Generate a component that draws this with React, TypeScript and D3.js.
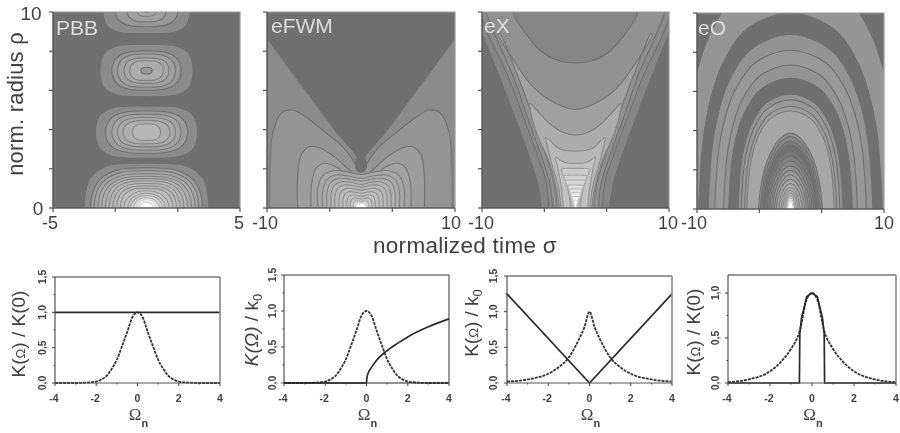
import * as d3 from "d3";

type Pt = [number, number];
type Ring = [number, number, number]; // half width, half height, level

const FONT = "'Liberation Sans', Arial, sans-serif";
const INK = "#3f3f3f";

// contour level -> grey
const gray = d3.scaleLinear<string>()
  .domain([0, 0.3, 0.6, 1])
  .range(["#707070", "#989898", "#c2c2c2", "#ffffff"])
  .clamp(true);

// quarter outlines of a closed contour, unit size
const boxy: Pt[] = [[1, 0], [0.98, 0.35], [0.9, 0.68], [0.66, 0.93], [0.32, 1], [0, 1]];
const soft: Pt[] = [[1, 0], [0.96, 0.38], [0.82, 0.72], [0.5, 0.95], [0, 1]];
const round: Pt[] = [[1, 0], [0.93, 0.4], [0.72, 0.72], [0.38, 0.94], [0, 1]];
const arch: Pt[] = [[1, 0], [0.98, 0.2], [0.94, 0.4], [0.85, 0.6], [0.72, 0.76], [0.47, 0.92], [0, 1]];
const core: Pt[] = [[1, 0], [0.93, 0.3], [0.8, 0.55], [0.6, 0.76], [0.32, 0.93], [0, 1]];
const butterfly: Pt[] = [[1, 0], [1, 0.5], [0.9, 0.85], [0.65, 1], [0.3, 0.97], [0, 0.9]];
const funnel: Pt[] = [[0.35, 0], [0.45, 0.3], [0.7, 0.7], [0.95, 0.9], [1, 0.98], [0.5, 1], [0, 1]];

// PBB lobes, sigma half width / rho half height
const pbbLobe0Outer: Ring[] = [[3.33, 2.28, 0.2]];
const pbbLobe0Soft: Ring[] = [[3.0, 2.05, 0.32], [2.8, 1.9, 0.38], [2.6, 1.75, 0.42], [2.4, 1.62, 0.45], [2.2, 1.5, 0.48], [2.0, 1.38, 0.5], [1.8, 1.25, 0.52], [1.6, 1.12, 0.54], [1.4, 1.0, 0.56]];
const pbbLobe0Round: Ring[] = [[1.2, 0.88, 0.6], [1.0, 0.75, 0.64], [0.85, 0.64, 0.7], [0.68, 0.52, 0.8], [0.52, 0.42, 1], [0.4, 0.3, 1]];
const pbbLobe1Outer: Ring[] = [[2.73, 1.33, 0.2]];
const pbbLobe1: Ring[] = [[2.2, 1.08, 0.32], [1.85, 0.92, 0.38], [1.55, 0.75, 0.42], [1.25, 0.6, 0.46], [0.75, 0.42, 0.52]];
const pbbLobe2Outer: Ring[] = [[2.49, 1.33, 0.2]];
const pbbLobe2: Ring[] = [[1.85, 1.0, 0.3], [1.55, 0.85, 0.36], [1.2, 0.65, 0.4], [0.9, 0.5, 0.44], [0.3, 0.17, 0.3]];
const pbbLobe3Outer: Ring[] = [[2.33, 1.2, 0.2]];
const pbbLobe3: Ring[] = [[1.68, 0.85, 0.3], [1.05, 0.6, 0.36], [0.52, 0.32, 0.4], [0.15, 0.12, 0.3]];
const pbbCenters = [0, 3.87, 7.01, 10.1];

// eFWM
const fwmDark: Pt[] = [[-10.6, 11], [-10.6, 9.05], [-10, 8.66], [-7, 6.7], [-5, 5.42], [-2.5, 3.8], [-0.75, 2.85], [-0.42, 2.6], [-0.6, 2.2], [-0.4, 1.92], [0, 1.85]];
const fwmOutline1: Pt[] = [[-9.72, 0], [-9.68, 2.1], [-9.4, 3.8], [-8.5, 4.83], [-7.27, 5], [-5.67, 4.57], [-3.9, 3.9], [-1.95, 3.13], [-0.64, 2.28], [-0.35, 1.9], [0, 1.84]];
const fwmOutline2: Pt[] = [[-6.74, 0], [-6.74, 1.6], [-6.38, 2.7], [-5.5, 3.13], [-4.26, 3.04], [-2.84, 2.62], [-1.42, 2.02], [-0.64, 1.68], [0, 1.63]];
const fwmOutline3: Pt[] = [[-5.32, 0], [-5.25, 1.26], [-4.79, 2.02], [-3.9, 2.28], [-2.66, 2.11], [-1.42, 1.68], [0, 1.43]];
const fwmRings: Ring[] = [[4.6, 1.9, 0.4], [4.08, 1.68, 0.43], [3.62, 1.51, 0.46], [3.19, 1.34, 0.49], [2.77, 1.17, 0.52], [2.34, 1.0, 0.54], [1.91, 0.83, 0.56], [1.49, 0.66, 0.58], [1.13, 0.5, 0.62], [0.8, 0.36, 0.74]];
const fwmCenter: Ring[] = [[0.6, 0.26, 1]];

// eX
const exOutline1: Pt[] = [[-3.62, 0], [-4.15, 1.43], [-5.2, 2.96], [-6.65, 4.83], [-8.43, 7.04], [-9.93, 8.83], [-10.9, 10.1], [-10.9, 11], [0, 11]];
const exOutline2: Pt[] = [[-2.85, 0], [-3.2, 1.43], [-4.15, 2.8], [-5.58, 4.66], [-7.36, 6.87], [-9.32, 8.83], [-10.2, 10.1], [-10.2, 11], [0, 11]];
const exOutline3: Pt[] = [[-2.45, 0], [-2.74, 1.25], [-3.63, 2.62], [-5.05, 4.49], [-6.65, 6.7], [-8.6, 8.83], [-9.6, 10.1], [-9.6, 11], [0, 11]];
const exOutline4: Pt[] = [[-1.95, 0], [-2.3, 1.26], [-3.26, 2.79], [-4.69, 4.83], [-6.65, 7.3], [-8.1, 8.9], [-8.3, 8.9], [-6.65, 7.55], [-4.87, 6.36], [-3.08, 5.6], [0, 5.03]];
const exOutline5: Pt[] = [[-1.75, 0], [-2.08, 1.09], [-2.9, 2.45], [-4.15, 3.81], [-4.87, 5.1], [-4.87, 5.35], [-4.15, 5], [-2.74, 4.3], [-1.3, 3.85], [0, 3.72]];
const exOutline6: Pt[] = [[-1.55, 0], [-1.84, 1.09], [-2.56, 2.28], [-3.08, 3.3], [-3.19, 3.6], [-2.74, 3.45], [-1.84, 3.05], [0, 2.9]];
const exOutline7: Pt[] = [[-1.3, 0], [-1.48, 0.92], [-1.84, 1.94], [-2.1, 2.6], [-1.67, 2.45], [-0.94, 2.3], [0, 2.28]];
const exTopHole: Pt[] = [[-6.65, 11], [-6.65, 9.95], [-5.6, 9.08], [-3.8, 8.05], [-2, 7.55], [0, 7.4]];
const exRings: Ring[] = [[1.53, 2.02, 0.66], [1.25, 1.68, 0.7], [1.07, 1.43, 0.74], [0.86, 1.17, 0.78], [0.71, 0.97, 0.82], [0.57, 0.78, 0.88], [0.43, 0.58, 0.93], [0.25, 0.37, 1]];

// eO arches, half width at the base / top height
const eoArches: Ring[] = [
  [11.6, 12.1, 0.28], [9.8, 10, 0], [8.8, 8.9, 0.26], [8.1, 8.1, 0.3], [7.15, 7.35, 0.26],
  [6.6, 6.67, 0], [5.6, 5.87, 0.26], [5.27, 5.57, 0.3], [4.9, 5.23, 0.34], [4.66, 5.0, 0.4],
];
const eoCore: Ring[] = [
  [3.4, 3.87, 0.24], [3.2, 3.7, 0.16], [3.05, 3.45, 0.08], [2.9, 3.27, 0],
  [2.7, 2.95, 0.06], [2.5, 2.7, 0.12], [2.3, 2.45, 0.18], [2.1, 2.2, 0.24], [1.9, 1.98, 0.3],
  [1.7, 1.75, 0.34], [1.5, 1.52, 0.38], [1.25, 1.3, 0.42], [1.0, 1.1, 0.46], [0.8, 0.95, 0.5],
  [0.62, 0.82, 0.56], [0.48, 0.68, 0.66], [0.37, 0.55, 0.85], [0.29, 0.42, 1],
];

// lower row values
const omega = [-4, -3, -2.5, -2, -1.75, -1.5, -1.25, -1, -0.75, -0.5, -0.25, 0, 0.25, 0.5, 0.75, 1, 1.25, 1.5, 1.75, 2, 2.5, 3, 4];
const gaussK = [0, 0, 0.005, 0.02, 0.05, 0.1, 0.2, 0.33, 0.52, 0.72, 0.93, 1, 0.93, 0.72, 0.52, 0.33, 0.2, 0.1, 0.05, 0.02, 0.005, 0, 0];
const pbbOmega = [-4, 4];
const pbbK = [1, 1];
const fwmOmega = [-4, 0, 0.02, 0.1, 0.25, 0.5, 1, 1.5, 2, 3, 4];
const fwmK = [0, 0, 0.07, 0.15, 0.22, 0.32, 0.45, 0.55, 0.64, 0.78, 0.89];
const exOmega = [-4, 0, 4];
const exK = [1.25, 0, 1.25];
const exDashOmega = [-4, -3, -2, -1.5, -1, -0.5, -0.25, 0, 0.25, 0.5, 1, 1.5, 2, 3, 4];
const exDashK = [0.02, 0.05, 0.13, 0.22, 0.36, 0.62, 0.78, 1, 0.78, 0.62, 0.36, 0.22, 0.13, 0.05, 0.02];
const eoOmega = [-4, -0.6, -0.58, -0.5, -0.25, 0, 0.25, 0.5, 0.58, 0.6, 4];
const eoK = [0, 0, 0.55, 0.72, 0.96, 1, 0.96, 0.72, 0.55, 0, 0];
const eoDashOmega = [-4, -3, -2, -1.5, -1, -0.58, -0.25, 0, 0.25, 0.58, 1, 1.5, 2, 3, 4];
const eoDashK = [0.01, 0.04, 0.13, 0.23, 0.38, 0.58, 0.93, 1, 0.93, 0.58, 0.38, 0.23, 0.13, 0.04, 0.01];

const zip = (a: number[], b: number[]): Pt[] => a.map((v, i) => [v, b[i]]);

const ringPoints = (q: Pt[], w: number, h: number, cy: number): Pt[] => {
  const top = q.map(([x, y]) => [x * w, cy + y * h] as Pt);
  const topLeft = top.slice(1, -1).reverse().map(([x, y]) => [-x, y] as Pt);
  const bottom = [...top, ...topLeft, [-w * q[0][0], cy + q[0][1] * h] as Pt];
  const under = bottom.slice(1, -1).reverse().map(([x, y]) => [x, 2 * cy - y] as Pt);
  return [...bottom, ...under];
};

// mirror a left half outline round sigma = 0
const mirror = (half: Pt[]): Pt[] => {
  const rest = half.filter(d => d[0] !== 0).reverse().map(([x, y]) => [-x, y] as Pt);
  return [...half, ...rest];
};

const TopPanel = ({ id, x0, x1, y0, y1, xDomain, xTicks, label, labelX, labelY, base, children }: any) => {
  const x = d3.scaleLinear().domain(xDomain).range([x0, x1]);
  const y = d3.scaleLinear().domain([0, 10]).range([y1, y0]);
  const line = d3.line().x(d => x(d[0])).y(d => y(d[1])).curve(d3.curveCatmullRom);
  const closed = d3.line().x(d => x(d[0])).y(d => y(d[1])).curve(d3.curveCatmullRomClosed);
  const edge = (level: number) => gray(Math.max(level - 0.32, 0));
  const shape = (points: Pt[], level: number, k: number) => (
    <path key={k} d={line(points) as string} fill={gray(level)} stroke={edge(level)} strokeWidth={1.1} />
  );
  const rings = (q: Pt[], list: Ring[], cy: number) => list.map(([w, h, l], i) => (
    <path key={`${cy}-${i}-${w}`} d={closed(ringPoints(q, w, h, cy)) as string} fill={gray(l)} stroke={edge(l)} strokeWidth={1.1} />
  ));
  return (
    <g>
      <clipPath id={id}><rect x={x0} y={y0} width={x1 - x0} height={y1 - y0} /></clipPath>
      <g clipPath={`url(#${id})`}>
        <rect x={x0} y={y0} width={x1 - x0} height={y1 - y0} fill={gray(base)} />
        {children({ shape, rings })}
      </g>
      <path d={`M${x0},${y0}H${x1}V${y1}`} fill="none" stroke="#9a9a9a" strokeWidth={1.2} />
      <path d={`M${x0},${y0}V${y1}H${x1}`} fill="none" stroke="#5a5a5a" strokeWidth={1.5} />
      {xTicks.map((t: number) => (
        <line key={t} x1={x(t)} x2={x(t)} y1={y1} y2={y1 + 4} stroke="#555" strokeWidth={1.2} />
      ))}
      {[0, 2, 4, 6, 8, 10].map(t => (
        <line key={t} x1={x0 - 4} x2={x0} y1={y(t)} y2={y(t)} stroke="#555" strokeWidth={1.2} />
      ))}
      <text x={labelX} y={labelY} fontFamily={FONT} fontSize={21} fill="#dcdcdc">{label}</text>
    </g>
  );
};

const BottomPanel = ({ x0, x1, y0, yMax, yTicks, yLabelX, series, dash, curve, rightGray }: any) => {
  const y1 = 383;
  const x = d3.scaleLinear().domain([-4, 4]).range([x0, x1]);
  const y = d3.scaleLinear().domain([0, yMax]).range([y1, y0]);
  const line = d3.line().x(d => x(d[0])).y(d => y(d[1]));
  const minorY = d3.range(0, yMax + 0.01, 0.25);
  return (
    <g>
      <path d={line.curve(d3.curveMonotoneX)(dash) as string} fill="none" stroke="#333" strokeWidth={1.8} strokeDasharray="3 1" />
      <path d={line.curve(curve)(series) as string} fill="none" stroke="#2b2b2b" strokeWidth={1.7} />
      <path d={`M${x0},${y1}V${y0}H${x1}`} fill="none" stroke="#333" strokeWidth={1} />
      <path d={`M${x1},${y0}V${y1}`} fill="none" stroke={rightGray ? "#8a8a8a" : "#333"} strokeWidth={rightGray ? 1.6 : 1} />
      <line x1={x0} x2={x1} y1={y1} y2={y1} stroke={rightGray ? "#555" : "#222"} strokeWidth={1.2} />
      {d3.range(-4, 5, 1).map(t => (
        <line key={t} x1={x(t)} x2={x(t)} y1={y1} y2={y1 + (t % 2 === 0 ? 3 : 1.5)} stroke="#444" />
      ))}
      {minorY.map((t, i) => (
        <line key={t} x1={x0 - (i % 2 === 0 ? 3 : 1.5)} x2={x0} y1={y(t)} y2={y(t)} stroke="#444" />
      ))}
      {[-4, -2, 0, 2, 4].map(t => (
        <text key={t} x={x(t) - (t < 0 ? 1 : 0)} y={402} textAnchor="middle" fontFamily={FONT} fontSize={10.5} fontWeight="bold" fill={INK}>{t}</text>
      ))}
      {yTicks.map((t: string) => (
        <text key={t} transform={`translate(${yLabelX},${y(+t.replace(",", "."))}) rotate(-90)`} textAnchor="middle" fontFamily={FONT} fontSize={10.5} fontWeight="bold" fill={INK}>{t}</text>
      ))}
      <text x={(x0 + x1) / 2 + 1} y={420} textAnchor="middle" fontFamily="'Liberation Serif', serif" fontSize={17} fill={INK}>Ω<tspan dy={7} fontFamily={FONT} fontSize={11} fontWeight="bold">n</tspan></text>
    </g>
  );
};

const YLabel = ({ x, y, children }: any) => (
  <text transform={`translate(${x},${y}) rotate(-90)`} textAnchor="middle" fontFamily={FONT} fontSize={19} fill={INK}>{children}</text>
);

export default function App() {
  return (
    <svg width={900} height={433} style={{ position: "absolute", left: 0, top: 0, background: "#fff" }}>
      <defs>
        <filter id="soft" x="0" y="0" width="900" height="433" filterUnits="userSpaceOnUse">
          <feGaussianBlur stdDeviation={0.55} />
        </filter>
      </defs>
      <g filter="url(#soft)">
        <TopPanel id="p1" x0={53} x1={240} y0={12} y1={208} xDomain={[-5, 5]} xTicks={[-5, -1.67, 1.67, 5]} label="PBB" labelX={56} labelY={35} base={0}>
          {({ rings }: any) => (
            <>
              {rings(boxy, pbbLobe0Outer, pbbCenters[0])}
              {rings(soft, pbbLobe0Soft, pbbCenters[0])}
              {rings(round, pbbLobe0Round, pbbCenters[0])}
              {rings(boxy, pbbLobe1Outer, pbbCenters[1])}
              {rings(soft, pbbLobe1, pbbCenters[1])}
              {rings(boxy, pbbLobe2Outer, pbbCenters[2])}
              {rings(soft, pbbLobe2, pbbCenters[2])}
              {rings(boxy, pbbLobe3Outer, pbbCenters[3])}
              {rings(soft, pbbLobe3, pbbCenters[3])}
            </>
          )}
        </TopPanel>
        <TopPanel id="p2" x0={267} x1={455} y0={12} y1={208} xDomain={[-10, 10]} xTicks={[-10, -3.33, 3.33, 10]} label="eFWM" labelX={271} labelY={33} base={0.2}>
          {({ shape, rings }: any) => (
            <>
              {shape(mirror(fwmOutline1), 0.27, 2)}
              {shape(mirror(fwmDark), 0, 1)}
              {shape(mirror(fwmOutline2), 0.33, 3)}
              {shape(mirror(fwmOutline3), 0.37, 4)}
              {rings(butterfly, fwmRings, 0)}
              {rings(round, fwmCenter, 0)}
            </>
          )}
        </TopPanel>
        <TopPanel id="p3" x0={482} x1={669} y0={12} y1={208} xDomain={[-10, 10]} xTicks={[-10, -3.33, 3.33, 10]} label="eX" labelX={484} labelY={33} base={0}>
          {({ shape, rings }: any) => (
            <>
              {shape(mirror(exOutline1), 0.16, 1)}
              {shape(mirror(exOutline2), 0.2, 2)}
              {shape(mirror(exOutline3), 0.25, 3)}
              {shape(mirror(exTopHole), 0.16, 4)}
              {shape(mirror(exOutline4), 0.36, 5)}
              {shape(mirror(exOutline5), 0.44, 6)}
              {shape(mirror(exOutline6), 0.52, 7)}
              {shape(mirror(exOutline7), 0.6, 8)}
              {rings(funnel, exRings, 0)}
            </>
          )}
        </TopPanel>
        <TopPanel id="p4" x0={697} x1={884} y0={13} y1={209} xDomain={[-10, 10]} xTicks={[-10, -3.33, 3.33, 10]} label="eO" labelX={698} labelY={35} base={0}>
          {({ rings }: any) => (
            <>
              {rings(arch, eoArches, 0)}
              {rings(core, eoCore, 0)}
            </>
          )}
        </TopPanel>

        {[["10", 31, 20], ["0", 38, 215]].map(([t, x, y]) => (
          <text key={t} x={x} y={y} textAnchor="middle" fontFamily={FONT} fontSize={19} fill={INK}>{t}</text>
        ))}
        {[["-5", 50], ["5", 239], ["-10", 265], ["10", 451], ["-10", 481], ["10", 668], ["-10", 694], ["10", 884]].map(([t, x], i) => (
          <text key={i} x={x} y={228.8} textAnchor="middle" fontFamily={FONT} fontSize={18} fill={INK}>{t}</text>
        ))}
        <text transform="translate(23,104) rotate(-90)" textAnchor="middle" fontFamily={FONT} fontSize={22} letterSpacing={0.2} fill={INK}>norm. radius ρ</text>
        <text x={465} y={253.4} textAnchor="middle" fontFamily={FONT} fontSize={22.5} letterSpacing={0.3} fill={INK}>normalized time σ</text>

        <BottomPanel x0={55} x1={220} y0={277} yMax={1.5} yTicks={["0,0", "0,5", "1,0", "1,5"]} yLabelX={46} series={zip(pbbOmega, pbbK)} dash={zip(omega, gaussK)} curve={d3.curveLinear} rightGray />
        <BottomPanel x0={284} x1={449} y0={275} yMax={1.5} yTicks={["0,0", "0,5", "1,0", "1,5"]} yLabelX={276} series={zip(fwmOmega, fwmK)} dash={zip(omega, gaussK)} curve={d3.curveMonotoneX} />
        <BottomPanel x0={507} x1={672} y0={276} yMax={1.5} yTicks={["0,0", "0,5", "1,0", "1,5"]} yLabelX={497} series={zip(exOmega, exK)} dash={zip(exDashOmega, exDashK)} curve={d3.curveLinear} rightGray />
        <BottomPanel x0={728} x1={896} y0={275} yMax={1.2} yTicks={["0,0", "0,5", "1,0"]} yLabelX={719} series={zip(eoOmega, eoK)} dash={zip(eoDashOmega, eoDashK)} curve={d3.curveLinear} rightGray />

        <YLabel x={25} y={334}>K(<tspan fontSize={13}>Ω</tspan>) / K(0)</YLabel>
        <YLabel x={258} y={330}><tspan fontStyle="italic">K(Ω)</tspan> / k<tspan dy={4} fontSize={13}>0</tspan></YLabel>
        <YLabel x={478} y={323}>K(<tspan fontSize={13}>Ω</tspan>) / k<tspan dy={4} fontSize={13}>0</tspan></YLabel>
        <YLabel x={700} y={332}>K(<tspan fontSize={13}>Ω</tspan>) / K(0)</YLabel>
      </g>
    </svg>
  );
}
